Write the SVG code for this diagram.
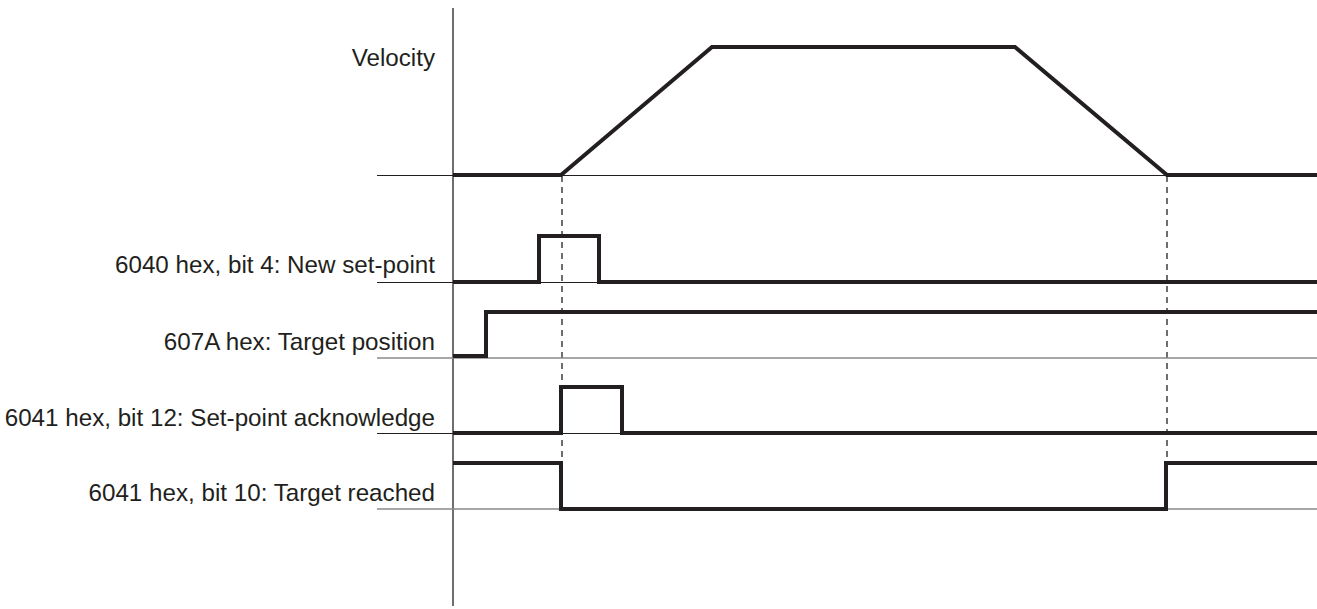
<svg xmlns="http://www.w3.org/2000/svg" width="1317" height="609" viewBox="0 0 1317 609">
<style>
.lbl{font-family:"Liberation Sans",Arial,sans-serif;font-size:24.2px;fill:#231f20;text-anchor:end}
.axis{stroke:#231f20;stroke-width:1.3;fill:none}
.base{stroke:#231f20;stroke-width:1.2;fill:none}
.baseg{stroke:#8a8a8a;stroke-width:1.4;fill:none}
.sig{stroke:#231f20;stroke-width:4;fill:none;stroke-linejoin:miter;stroke-linecap:butt}
.dash{stroke:#231f20;stroke-width:1.3;fill:none;stroke-dasharray:6 5}
</style>
<rect width="1317" height="609" fill="#fff"/>
<g id="axis">
<line class="axis" x1="453" y1="8" x2="453" y2="606"/>
</g>
<g id="connectors">
<line class="dash" x1="562" y1="176" x2="562" y2="462"/>
<line class="dash" x1="1167" y1="176" x2="1167" y2="462"/>
</g>
<g id="velocity">
<line class="base" x1="377" y1="175.5" x2="1317" y2="175.5"/>
<polyline class="sig" points="453,175 561,175 712,47 1015,47 1167,175 1317,175"/>
<text class="lbl" x="435" y="66">Velocity</text>
</g>
<g id="newsetpoint">
<line class="base" x1="377" y1="282.5" x2="1317" y2="282.5"/>
<polyline class="sig" points="453,282 539,282 539,236 599,236 599,282 1317,282"/>
<text class="lbl" x="435" y="273">6040 hex, bit 4: New set-point</text>
</g>
<g id="targetposition">
<line class="baseg" x1="377" y1="358" x2="1317" y2="358"/>
<polyline class="sig" points="453,356 486,356 486,312 1317,312"/>
<text class="lbl" x="435" y="350">607A hex: Target position</text>
</g>
<g id="setpointack">
<line class="base" x1="377" y1="433.5" x2="1317" y2="433.5"/>
<polyline class="sig" points="453,433 561,433 561,387 622,387 622,433 1317,433"/>
<text class="lbl" x="435" y="426">6041 hex, bit 12: Set-point acknowledge</text>
</g>
<g id="targetreached">
<line class="baseg" x1="377" y1="509" x2="1317" y2="509"/>
<polyline class="sig" points="453,463 561,463 561,509 1166,509 1166,463 1317,463"/>
<text class="lbl" x="435" y="501">6041 hex, bit 10: Target reached</text>
</g>
</svg>
